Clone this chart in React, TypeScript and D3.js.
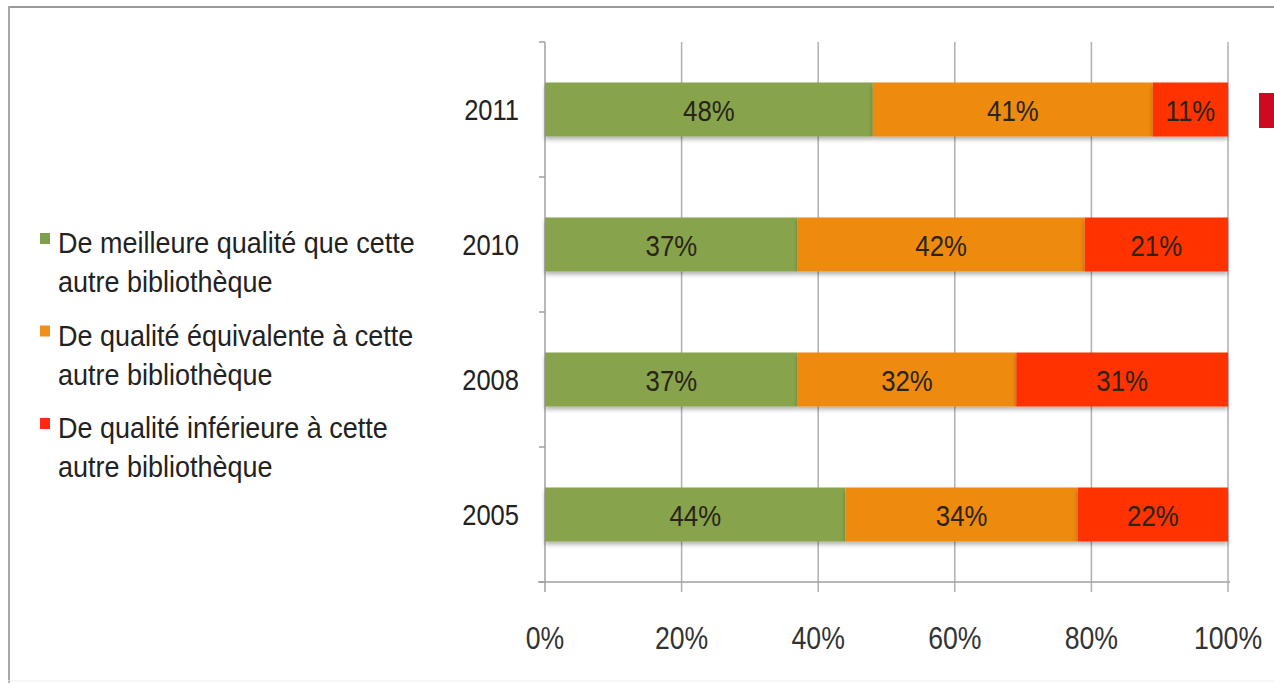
import React from "react";
import * as d3 from "d3";

const years = ["2011", "2010", "2008", "2005"];
const better = [48, 37, 37, 44];
const equal = [41, 42, 32, 34];
const worse = [11, 21, 31, 22];
const seriesNames = [
  ["De meilleure qualité que cette", "autre bibliothèque"],
  ["De qualité équivalente à cette", "autre bibliothèque"],
  ["De qualité inférieure à cette", "autre bibliothèque"],
];
const xTicks = [0, 20, 40, 60, 80, 100];

const W = 1274;
const H = 683;
const colors = ["#87A34B", "#EE8A10", "#FF3300"];
const legendColors = ["#7FA04A", "#F0901A", "#FF2A10"];
const font = "'Liberation Sans', Arial, sans-serif";

function T({ x, y, sx, size, anchor, fill, children }: any) {
  return (
    <text
      transform={`translate(${x},${y}) scale(${sx},1)`}
      textAnchor={anchor}
      fontFamily={font}
      fontSize={size}
      fill={fill}
    >
      {children}
    </text>
  );
}

export default function App() {
  const x = d3.scaleLinear().domain([0, 100]).range([545, 1228]);
  const y = d3.scaleBand<string>().domain(years).range([42, 582]).paddingInner(0.6).paddingOuter(0.3);
  const step = y.step();
  const series = [better, equal, worse];
  const stackData = years.map((yr, i) => ({ year: yr, a: better[i], b: equal[i], c: worse[i] }));
  const stacked = d3.stack<any>().keys(["a", "b", "c"])(stackData);
  const catTicks = d3.range(years.length + 1).map((i) => 42 + i * step);

  return (
    <svg width={W} height={H} style={{ position: "absolute", left: 0, top: 0, background: "#fff" }}>
      <defs>
        <filter id="sh" x="-5%" y="-20%" width="110%" height="160%">
          <feGaussianBlur in="SourceAlpha" stdDeviation="2" />
          <feOffset dx="0" dy="3" result="o" />
          <feComponentTransfer>
            <feFuncA type="linear" slope="0.3" />
          </feComponentTransfer>
          <feMerge>
            <feMergeNode />
            <feMergeNode in="SourceGraphic" />
          </feMerge>
        </filter>
      </defs>
      {/* frame */}
      <line x1={8} y1={7} x2={W} y2={7} stroke="#9a9a9a" strokeWidth={2} />
      <line x1={9} y1={6} x2={9} y2={H} stroke="#a8a8a8" strokeWidth={2} />
      <line x1={8} y1={681} x2={W} y2={681} stroke="#ececec" strokeWidth={1} />

      {/* gridlines */}
      {xTicks.slice(1).map((t) => (
        <line key={t} x1={x(t)} x2={x(t)} y1={42} y2={592} stroke="#b0b0b0" strokeWidth={1.5} />
      ))}
      {/* left axis */}
      <line x1={545} x2={545} y1={42} y2={592} stroke="#a0a0a0" strokeWidth={1.5} />
      {catTicks.map((t, i) => (
        <line key={i} x1={539} x2={545} y1={t} y2={t} stroke="#a0a0a0" strokeWidth={1.5} />
      ))}
      {/* bottom axis */}
      <line x1={538} x2={1230} y1={582} y2={582} stroke="#a0a0a0" strokeWidth={1.5} />

      {/* bars */}
      {stacked.map((s, si) => (
        <g key={si} filter="url(#sh)">
          {s.map((d, i) => (
            <rect
              key={i}
              x={x(d[0])}
              y={y(years[i])}
              width={x(d[1]) - x(d[0])}
              height={y.bandwidth()}
              fill={colors[si]}
            />
          ))}
        </g>
      ))}
      {stacked.map((s, si) =>
        s.map((d, i) => (
          <T
            key={`${si}-${i}`}
            x={(x(d[0]) + x(d[1])) / 2}
            y={(y(years[i]) as number) + y.bandwidth() / 2 + 11}
            sx={0.86}
            size={30}
            anchor="middle"
            fill="#2a2418"
          >
            {series[si][i]}%
          </T>
        ))
      )}

      {/* year labels */}
      {years.map((yr) => (
        <T
          key={yr}
          x={519}
          y={(y(yr) as number) + y.bandwidth() / 2 + 10}
          sx={0.88}
          size={29}
          anchor="end"
          fill="#222"
        >
          {yr}
        </T>
      ))}

      {/* x tick labels */}
      {xTicks.map((t) => (
        <T key={t} x={x(t)} y={649} sx={0.86} size={31} anchor="middle" fill="#333">
          {t}%
        </T>
      ))}

      {/* legend */}
      {seriesNames.map((lines, i) => {
        const base = 253 + i * 92.5;
        return (
          <g key={i}>
            <rect x={40} y={base - 20} width={10} height={11} fill={legendColors[i]} />
            {lines.map((ln, j) => (
              <T key={j} x={58} y={base + j * 39} sx={0.93} size={29} anchor="start" fill="#222">
                {ln}
              </T>
            ))}
          </g>
        );
      })}

      {/* red mark at right */}
      <rect x={1259} y={93} width={16} height={35} fill="#CC0A22" />
    </svg>
  );
}
